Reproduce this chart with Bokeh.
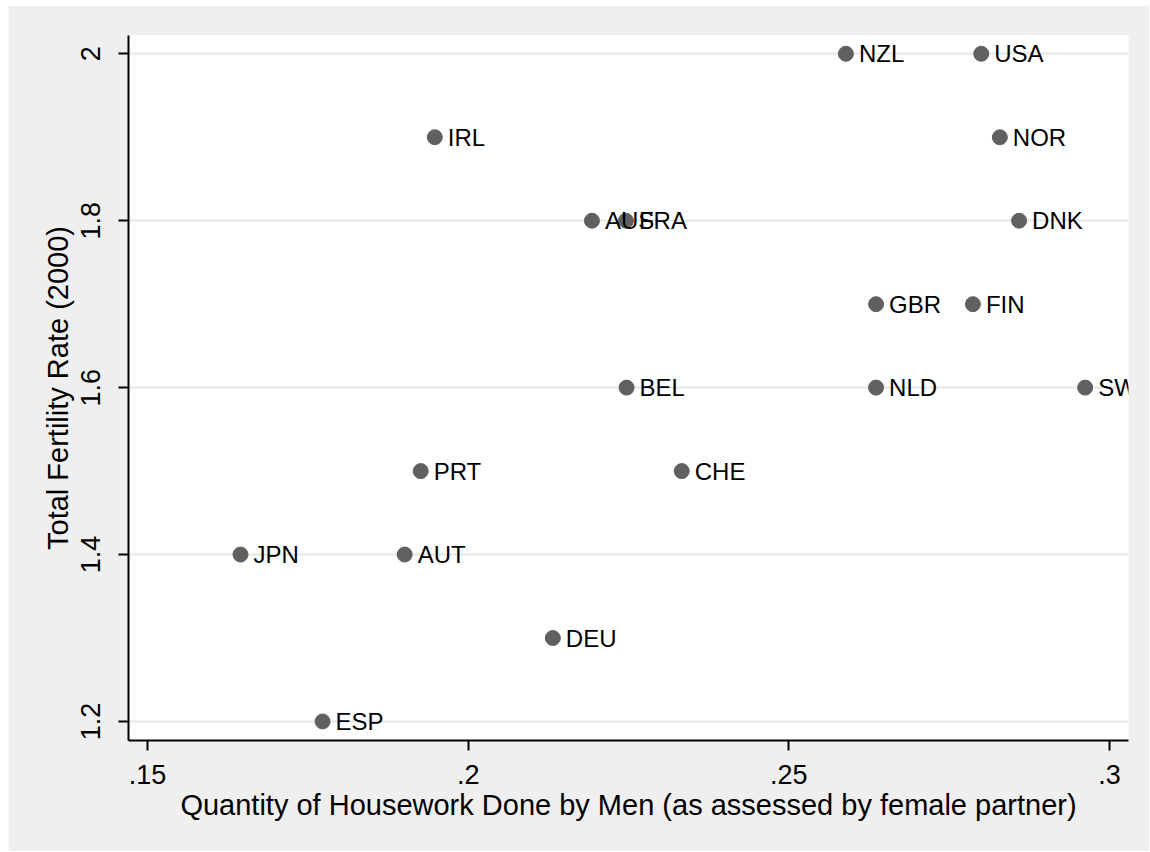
from bokeh.plotting import figure
from bokeh.models import ColumnDataSource, FixedTicker
from bokeh.core.properties import value
from bokeh.embed import file_html
from bokeh.resources import INLINE

countries = ["NZL", "USA", "IRL", "NOR", "AUS", "FRA", "DNK", "GBR", "FIN",
             "BEL", "NLD", "SWE", "PRT", "CHE", "JPN", "AUT", "DEU", "ESP"]
housework = [0.2589, 0.2800, 0.1948, 0.2829, 0.2193, 0.2246, 0.2859, 0.2636, 0.2787,
             0.2247, 0.2636, 0.2962, 0.1926, 0.2333, 0.1645, 0.1901, 0.2132, 0.1773]
fertility = [2.0, 2.0, 1.9, 1.9, 1.8, 1.8, 1.8, 1.7, 1.7,
             1.6, 1.6, 1.6, 1.5, 1.5, 1.4, 1.4, 1.3, 1.2]

x_ticks = [0.15, 0.2, 0.25, 0.3]
x_tick_labels = [".15", ".2", ".25", ".3"]
y_ticks = [1.2, 1.4, 1.6, 1.8, 2.0]
y_tick_labels = ["1.2", "1.4", "1.6", "1.8", "2"]

FONT = "Liberation Sans"
BG = "#EFEFEF"

src = ColumnDataSource(dict(x=housework, y=fertility, label=countries))

p = figure(width=1141, height=846, output_backend="svg", toolbar_location=None,
           x_range=(0.14704, 0.30296), y_range=(1.1772, 2.0219),
           min_border_left=120, min_border_right=21, min_border_top=30,
           min_border_bottom=111)
p.margin = (5, 0, 0, 8)
p.background_fill_color = "white"
p.border_fill_color = BG
p.outline_line_color = None

p.scatter("x", "y", source=src, size=15, fill_color="#606060", line_color="#606060")
p.text("x", "y", text="label", source=src, x_offset=13, text_baseline="middle",
       text_align="left", text_font=value(FONT), text_font_size="24px",
       text_color="black")

p.xaxis.ticker = FixedTicker(ticks=x_ticks)
p.xaxis.major_label_overrides = {t: l for t, l in zip(x_ticks, x_tick_labels)}
p.yaxis.ticker = FixedTicker(ticks=y_ticks)
p.yaxis.major_label_overrides = {t: l for t, l in zip(y_ticks, y_tick_labels)}
p.yaxis.major_label_orientation = "vertical"

for ax in (p.xaxis, p.yaxis):
    ax.axis_line_color = "black"
    ax.axis_line_width = 2
    ax.major_tick_line_color = "black"
    ax.major_tick_line_width = 2
    ax.major_tick_out = 10
    ax.major_tick_in = 0
    ax.minor_tick_line_color = None
    ax.major_label_text_font = FONT
    ax.major_label_text_font_size = "27px"
    ax.major_label_text_color = "black"
    ax.axis_label_text_font = FONT
    ax.axis_label_text_font_size = "29px"
    ax.axis_label_text_font_style = "normal"
    ax.axis_label_text_color = "black"

p.xaxis.axis_label = "Quantity of Housework Done by Men (as assessed by female partner)"
p.yaxis.axis_label = "Total Fertility Rate (2000)"
p.xaxis.major_label_standoff = 14
p.xaxis.axis_label_standoff = 2
p.yaxis.major_label_standoff = 18
p.yaxis.axis_label_standoff = 5

p.xgrid.grid_line_color = None
p.ygrid.grid_line_color = "#E6E6E6"
p.ygrid.grid_line_width = 2
p.ygrid.ticker = FixedTicker(ticks=y_ticks)

open("out.html", "w").write(file_html(p, INLINE))
